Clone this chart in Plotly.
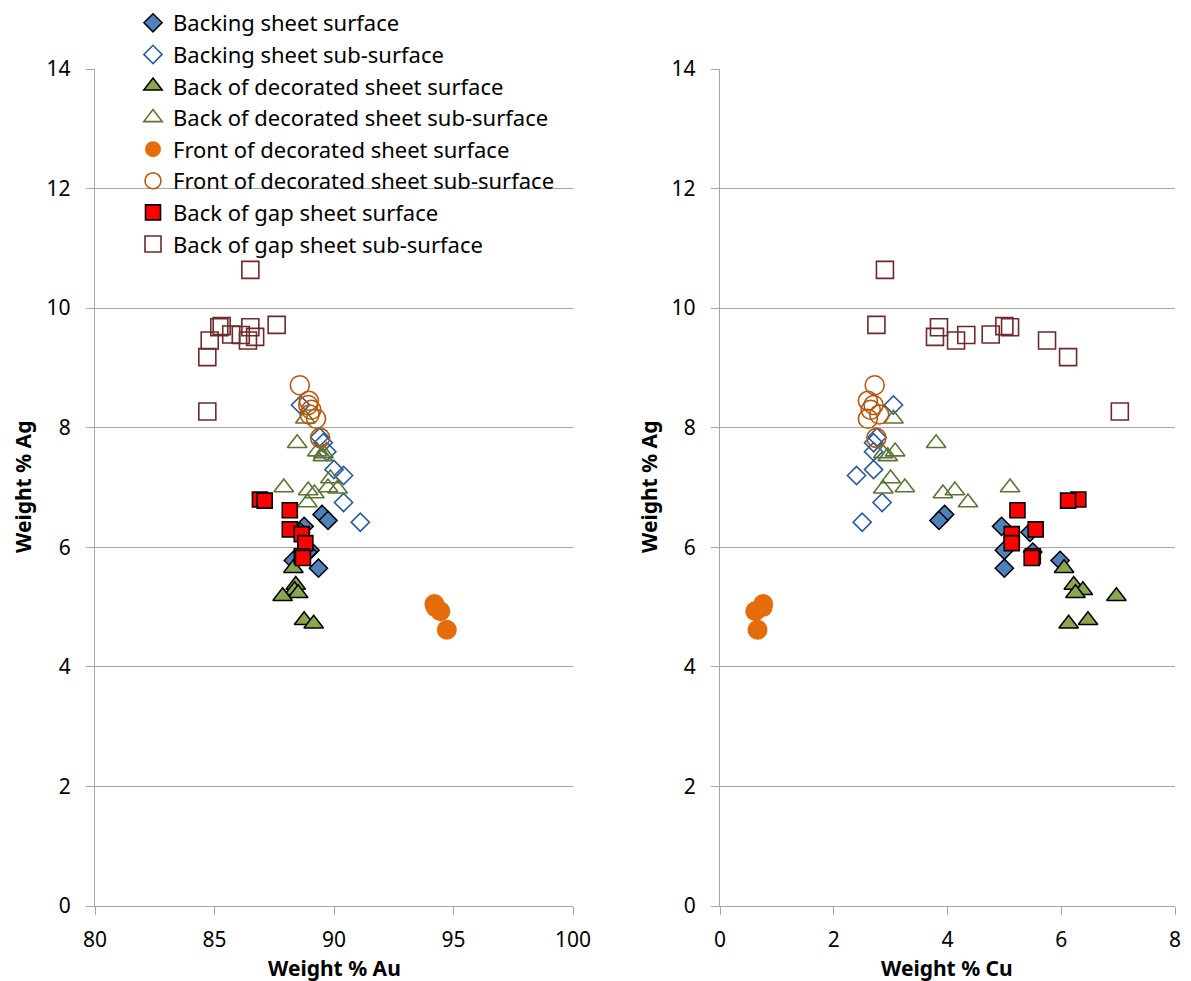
import plotly.graph_objects as go

# ---------------- data (weight %) ----------------
bs_surf_au = [89.5, 89.75, 88.75, 88.6, 89.0, 88.9, 88.3, 89.35]
bs_surf_ag = [6.55, 6.45, 6.35, 6.25, 5.95, 5.92, 5.78, 5.65]
bs_surf_cu = [3.95, 3.85, 4.95, 5.45, 5.0, 5.5, 5.98, 5.0]

bs_sub_au = [88.6, 89.4, 89.55, 89.7, 90.0, 90.4, 90.4, 91.1]
bs_sub_ag = [8.38, 7.84, 7.75, 7.6, 7.3, 7.2, 6.75, 6.42]
bs_sub_cu = [3.05, 2.76, 2.7, 2.7, 2.7, 2.4, 2.85, 2.5]

bd_surf_au = [88.3, 88.4, 88.35, 88.5, 87.85, 88.75, 89.15]
bd_surf_ag = [5.65, 5.37, 5.28, 5.23, 5.18, 4.78, 4.72]
bd_surf_cu = [6.05, 6.22, 6.38, 6.25, 6.97, 6.47, 6.13]

bd_sub_au = [88.8, 88.46, 89.56, 89.53, 89.3, 89.85, 87.9, 90.15, 88.92, 89.18, 88.89, 89.75]
bd_sub_ag = [8.15, 7.74, 7.57, 7.52, 7.6, 7.15, 7.0, 6.98, 6.95, 6.9, 6.75, 7.0]
bd_sub_cu = [3.05, 3.8, 2.87, 2.95, 3.08, 3.0, 5.1, 2.87, 4.13, 3.92, 4.36, 3.25]

fd_surf_au = [94.2, 94.25, 94.45, 94.72]
fd_surf_ag = [5.05, 5.0, 4.93, 4.62]
fd_surf_cu = [0.76, 0.75, 0.62, 0.66]

fd_sub_au = [88.57, 88.95, 88.92, 89.05, 88.98, 89.25, 89.42]
fd_sub_ag = [8.71, 8.45, 8.38, 8.3, 8.22, 8.15, 7.83]
fd_sub_cu = [2.72, 2.6, 2.7, 2.65, 2.8, 2.6, 2.75]

bg_surf_au = [86.9, 87.1, 88.15, 88.15, 88.65, 88.8, 88.65, 88.7]
bg_surf_ag = [6.8, 6.78, 6.62, 6.3, 6.22, 6.07, 5.85, 5.82]
bg_surf_cu = [6.3, 6.12, 5.23, 5.55, 5.13, 5.13, 5.5, 5.48]

bg_sub_au = [86.5, 87.6, 86.5, 85.3, 85.2, 86.7, 86.4, 86.1, 85.7, 84.8, 84.7, 84.7]
bg_sub_ag = [10.64, 9.72, 9.68, 9.7, 9.68, 9.52, 9.46, 9.55, 9.56, 9.46, 9.18, 8.27]
bg_sub_cu = [2.9, 2.75, 3.85, 5.0, 5.1, 3.78, 4.15, 4.33, 4.76, 5.75, 6.12, 7.03]

series_names = [
    "Backing sheet surface",
    "Backing sheet sub-surface",
    "Back of decorated sheet surface",
    "Back of decorated sheet sub-surface",
    "Front of decorated sheet surface",
    "Front of decorated sheet sub-surface",
    "Back of gap sheet surface",
    "Back of gap sheet sub-surface",
]

y_ticks = [0, 2, 4, 6, 8, 10, 12, 14]
au_ticks = [80, 85, 90, 95, 100]
cu_ticks = [0, 2, 4, 6, 8]

x_title_left = "Weight % Au"
x_title_right = "Weight % Cu"
y_title = "Weight % Ag"

# ---------------- styles ----------------
styles = [
    dict(symbol="diamond", size=14, color="#4F81BD", line=dict(color="black", width=1.5)),
    dict(symbol="diamond-open", size=14, color="#2A5A9B", line=dict(color="#2A5A9B", width=1.6)),
    dict(symbol="triangle-up", size=17, color="#8BA64E", line=dict(color="black", width=1.5)),
    dict(symbol="triangle-up-open", size=17, color="#5C7433", line=dict(color="#5C7433", width=1.6)),
    dict(symbol="circle", size=20, color="#E46C0A", line=dict(color="#E46C0A", width=0)),
    dict(symbol="circle-open", size=19, color="#B5570F", line=dict(color="#B5570F", width=1.6)),
    dict(symbol="square", size=15, color="#FF0000", line=dict(color="black", width=1.6)),
    dict(symbol="square-open", size=17, color="#6E2A2A", line=dict(color="#6E2A2A", width=1.6)),
]

data = [
    (bs_surf_au, bs_surf_ag, bs_surf_cu),
    (bs_sub_au, bs_sub_ag, bs_sub_cu),
    (bd_surf_au, bd_surf_ag, bd_surf_cu),
    (bd_sub_au, bd_sub_ag, bd_sub_cu),
    (fd_surf_au, fd_surf_ag, fd_surf_cu),
    (fd_sub_au, fd_sub_ag, fd_sub_cu),
    (bg_surf_au, bg_surf_ag, bg_surf_cu),
    (bg_sub_au, bg_sub_ag, bg_sub_cu),
]

FONT = "Noto Sans"
fig = go.Figure()

for i, (name, (au, ag, cu)) in enumerate(zip(series_names, data)):
    fig.add_trace(go.Scatter(
        x=au, y=ag, mode="markers", name=name, legendgroup=name,
        marker=styles[i], xaxis="x", yaxis="y", showlegend=True,
    ))
for i, (name, (au, ag, cu)) in enumerate(zip(series_names, data)):
    fig.add_trace(go.Scatter(
        x=cu, y=ag, mode="markers", name=name, legendgroup=name,
        marker=styles[i], xaxis="x2", yaxis="y2", showlegend=False,
    ))

W, H = 1191, 981
S = 8  # page body offset
ML, MR, MT, MB = 50, 10, 50, 50
PW, PH = W - ML - MR, H - MT - MB


def dx(px):
    return (px - S - ML) / PW


def dy(py):
    return (H - MB - (py - S)) / PH


GRID = "#A6A6A6"
axis_common = dict(
    showline=True, linecolor=GRID, linewidth=1.3,
    ticks="outside", ticklen=8, tickcolor=GRID, tickwidth=1.3,
    tickfont=dict(family=FONT, size=21, color="black"),
    zeroline=False, automargin=False,
)
title_font = dict(family=FONT, size=21, color="black")

fig.update_layout(
    width=W, height=H,
    margin=dict(l=ML, r=MR, t=MT, b=MB, autoexpand=False),
    paper_bgcolor="white", plot_bgcolor="white",
    font=dict(family=FONT, color="black"),
    showlegend=True,
    legend=dict(
        x=dx(133), y=dy(2), xref="paper", yref="paper",
        xanchor="left", yanchor="top",
        font=dict(family=FONT, size=22, color="black"),
        tracegroupgap=0, bgcolor="rgba(0,0,0,0)",
    ),
    xaxis=dict(domain=[dx(95), dx(573)], range=[80, 100], tickvals=au_ticks, showgrid=False,
               ticklabelstandoff=7, anchor="y", **axis_common),
    yaxis=dict(domain=[dy(906), dy(69)], range=[0, 14], tickvals=y_ticks, showgrid=True,
               gridcolor=GRID, gridwidth=1.3, ticklabelstandoff=11,
               anchor="x", **axis_common),
    xaxis2=dict(domain=[dx(720), dx(1175)], range=[0, 8], tickvals=cu_ticks, showgrid=False,
                ticklabelstandoff=7, anchor="y2", **axis_common),
    yaxis2=dict(domain=[dy(906), dy(69)], range=[0, 14], tickvals=y_ticks, showgrid=True,
                gridcolor=GRID, gridwidth=1.3, ticklabelstandoff=11,
                anchor="x2", **axis_common),
)

title_annots = [
    (x_title_left, 334, 968, 0),
    (x_title_right, 947, 968, 0),
    (y_title, 23, 487, -90),
    (y_title, 649, 487, -90),
]
for text, px, py, ang in title_annots:
    fig.add_annotation(
        text="<b>" + text + "</b>", x=dx(px), y=dy(py), xref="paper", yref="paper",
        xanchor="center", yanchor="middle", textangle=ang, showarrow=False,
        font=title_font,
    )

fig.write_html("out.html")
